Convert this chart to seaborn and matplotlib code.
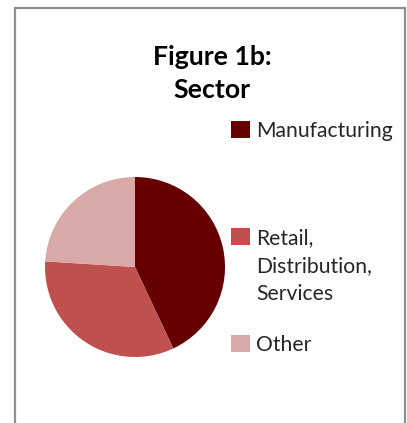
import matplotlib
matplotlib.use("Agg")
import matplotlib.pyplot as plt
import matplotlib.patches as mpatches
import seaborn as sns

# chart data
sectors = ["Manufacturing", "Retail,\nDistribution,\nServices", "Other"]
shares = [43, 33, 24]
colours = ["#660000", "#C0504D", "#D9A9A8"]
title = "Figure 1b:\nSector"


def main():
    sns.set_theme(style="white")
    plt.rcParams["font.family"] = ["Lato", "DejaVu Sans"]

    W, H = 407, 423
    fig = plt.figure(figsize=(W / 100, H / 100), dpi=100, facecolor="white")

    # outer frame (bottom edge runs off the image)
    fig.add_artist(mpatches.Rectangle((15 / W, -0.05), 390 / W, (H - 8) / H + 0.05,
                                      transform=fig.transFigure, fill=False,
                                      edgecolor="#8f8f8f", lw=1.6))

    # pie: centre (135, 267) px, radius 90 px
    cx, cy, r = 135, 267, 90
    ax = fig.add_axes([(cx - r) / W, 1 - (cy + r) / H, 2 * r / W, 2 * r / H])
    wedges, _ = ax.pie(shares, colors=sns.color_palette(colours), startangle=90,
                       counterclock=False, radius=1,
                       wedgeprops=dict(linewidth=0, antialiased=True))
    ax.set_xlim(-1, 1)
    ax.set_ylim(-1, 1)
    ax.set_axis_off()

    fig.text(212 / W, 1 - 45 / H, title, ha="center", va="top",
             fontsize=19.2, fontweight="bold", color="black", linespacing=1.45)

    # Excel-style legend, one entry per slot
    tops = [121, 228, 335]
    for w, lab, top in zip(wedges, sectors, tops):
        h = mpatches.Patch(facecolor=w.get_facecolor(), edgecolor="none")
        leg = fig.legend(handles=[h], labels=[lab], loc="upper left",
                         bbox_to_anchor=(231 / W, 1 - top / H), frameon=False,
                         fontsize=15.2, handlelength=0.88, handleheight=0.88,
                         handletextpad=0.3, borderpad=0, borderaxespad=0)
        for t in leg.get_texts():
            t.set_linespacing(1.5)
        for col in leg._legend_handle_box.get_children():
            for hp in col.get_children():
                hp.align = "top"

    fig.savefig("out.png", dpi=100, facecolor="white")
    plt.close(fig)


if __name__ == "__main__":
    main()
